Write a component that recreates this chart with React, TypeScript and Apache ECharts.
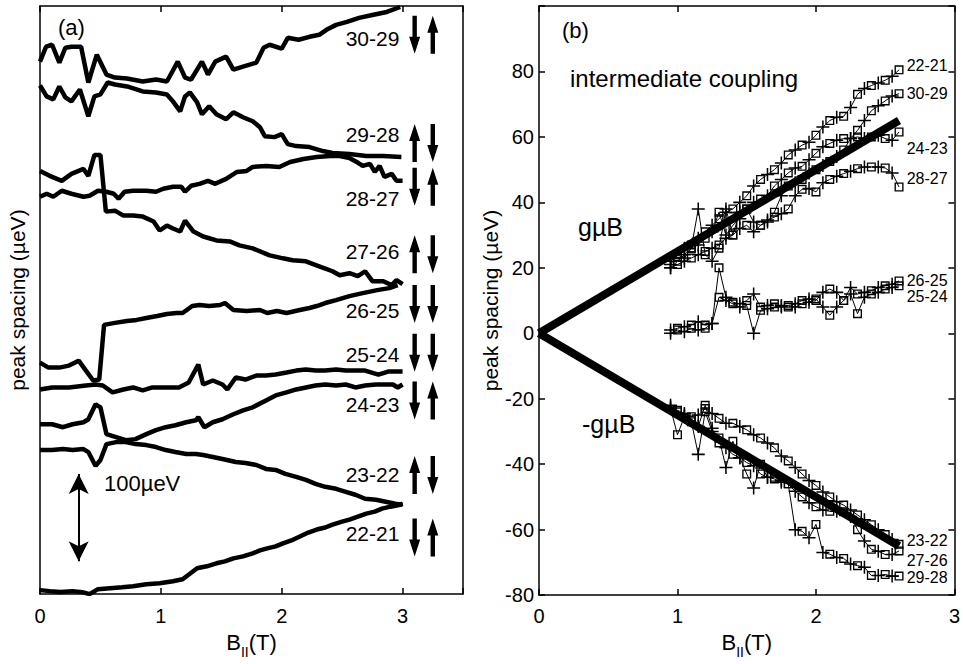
import React, { useEffect, useRef } from 'react';
import * as echarts from 'echarts';

const FONT = 'Liberation Sans, Arial, Helvetica, sans-serif';

// ---------- Panel (a): [B (T), peak spacing, offset traces (arb. µeV scale)] ----------
const a3029 = [[0,536],[0.05,551],[0.1,553],[0.16,535],[0.21,550],[0.26,551],[0.34,551],[0.4,515],[0.47,543],[0.55,523],[0.62,520],[0.72,519],[0.85,516],[0.96,518],[1.05,516],[1.14,536],[1.2,520],[1.25,518],[1.34,536],[1.39,523],[1.45,536],[1.54,541],[1.6,528],[1.68,531],[1.79,535],[1.85,550],[1.9,553],[2,549],[2.05,560],[2.14,558],[2.23,561],[2.31,563],[2.37,568],[2.45,573],[2.54,576],[2.64,580],[2.75,583],[2.87,586],[2.98,591]];
const a2928 = [[0,512],[0.055,501],[0.11,498],[0.16,511],[0.21,500],[0.26,496],[0.33,508],[0.4,481],[0.45,501],[0.5,503],[0.56,515],[0.62,513],[0.72,511],[0.85,506],[0.96,505],[1.05,503],[1.1,496],[1.16,486],[1.2,501],[1.24,505],[1.3,495],[1.34,483],[1.4,491],[1.46,483],[1.54,478],[1.6,485],[1.68,480],[1.76,476],[1.82,470],[1.86,461],[1.94,460],[2,463],[2.05,453],[2.12,451],[2.23,450],[2.34,446],[2.42,444],[2.56,443],[2.7,441],[2.84,441],[2.99,440]];
const a2827 = [[0,400],[0.055,403],[0.11,400],[0.18,406],[0.26,403],[0.36,400],[0.41,401],[0.48,406],[0.55,405],[0.61,403],[0.65,398],[0.7,405],[0.77,406],[0.88,406],[0.96,405],[1.02,408],[1.1,410],[1.17,410],[1.2,405],[1.25,411],[1.32,413],[1.39,416],[1.45,413],[1.54,418],[1.63,425],[1.71,426],[1.76,430],[1.87,431],[1.98,430],[2.07,435],[2.18,438],[2.29,440],[2.4,441],[2.48,441],[2.56,439],[2.62,435],[2.67,431],[2.73,433],[2.77,425],[2.81,431],[2.85,420],[2.91,423],[2.95,416],[3,416]];
const a2726 = [[0,426],[0.08,421],[0.18,416],[0.26,423],[0.36,428],[0.4,421],[0.45,442],[0.5,442],[0.545,385],[0.62,386],[0.69,381],[0.77,381],[0.85,380],[0.94,375],[0.99,366],[1.05,371],[1.1,368],[1.16,365],[1.2,376],[1.27,365],[1.35,360],[1.46,356],[1.57,355],[1.65,351],[1.76,348],[1.9,341],[2.01,338],[2.09,336],[2.2,335],[2.31,330],[2.42,325],[2.48,321],[2.56,323],[2.63,320],[2.69,325],[2.75,315],[2.84,315],[2.91,311],[2.95,316],[3,312]];
const a2625 = [[0,233],[0.07,228],[0.16,228],[0.24,230],[0.32,235],[0.38,225],[0.44,215],[0.49,216],[0.53,271],[0.62,273],[0.72,275],[0.8,276],[0.88,278],[0.97,280],[1.05,282],[1.13,283],[1.18,283],[1.26,290],[1.32,291],[1.4,290],[1.49,291],[1.53,293],[1.6,286],[1.71,285],[1.82,286],[1.88,283],[1.96,285],[2.04,283],[2.15,286],[2.23,288],[2.29,290],[2.36,293],[2.45,296],[2.56,300],[2.67,303],[2.79,306],[2.89,308],[2.96,311]];
const a2524 = [[0,206],[0.1,208],[0.24,208],[0.38,210],[0.46,211],[0.52,210],[0.6,203],[0.69,206],[0.77,208],[0.85,205],[0.93,208],[1.07,208],[1.15,208],[1.23,213],[1.31,231],[1.35,211],[1.43,215],[1.51,211],[1.55,206],[1.62,218],[1.7,216],[1.79,220],[1.87,220],[1.95,221],[2.04,223],[2.12,225],[2.2,226],[2.28,225],[2.36,225],[2.45,226],[2.53,225],[2.61,225],[2.69,225],[2.8,221],[2.88,224],[3,224]];
const a2423 = [[0,171],[0.1,171],[0.19,168],[0.27,171],[0.36,173],[0.4,176],[0.46,191],[0.5,188],[0.55,161],[0.63,158],[0.71,155],[0.79,156],[0.88,161],[0.96,165],[1.04,168],[1.12,170],[1.21,173],[1.29,175],[1.31,178],[1.36,168],[1.43,173],[1.51,176],[1.6,181],[1.68,185],[1.76,188],[1.87,195],[1.95,200],[2.04,203],[2.12,206],[2.2,208],[2.28,210],[2.36,211],[2.45,210],[2.53,211],[2.61,208],[2.69,210],[2.78,211],[2.86,211],[2.92,211],[2.96,208],[3,211]];
const a2322 = [[0,145],[0.1,145],[0.19,146],[0.27,145],[0.36,146],[0.4,143],[0.46,129],[0.5,135],[0.55,151],[0.63,153],[0.71,153],[0.79,151],[0.88,150],[0.96,148],[1.04,145],[1.12,143],[1.21,141],[1.29,141],[1.35,140],[1.43,138],[1.51,136],[1.62,133],[1.7,132],[1.79,130],[1.87,126],[1.95,125],[2.03,121],[2.12,118],[2.2,115],[2.28,111],[2.36,108],[2.45,106],[2.53,103],[2.61,100],[2.69,96],[2.78,95],[2.86,93],[2.94,91],[3,90]];
const a2221 = [[0,4],[0.08,3],[0.17,2],[0.27,3],[0.35,2],[0.41,0],[0.48,5],[0.58,6],[0.68,7],[0.77,8],[0.88,10],[0.99,11],[1.1,13],[1.18,15],[1.3,26],[1.38,28],[1.46,31],[1.53,33],[1.6,36],[1.68,38],[1.76,41],[1.82,44],[1.88,46],[1.95,48],[2.01,51],[2.08,54],[2.15,58],[2.22,62],[2.29,65],[2.36,67],[2.42,70],[2.5,73],[2.56,75],[2.63,78],[2.7,81],[2.77,83],[2.83,86],[2.9,88],[2.98,90],[3,91]];
const aTraces = [a3029, a2928, a2827, a2726, a2625, a2524, a2423, a2322, a2221];

const spinLabels = ['30-29', '29-28', '28-27', '27-26', '26-25', '25-24', '24-23', '23-22', '22-21'];
const spinLabelY = [559, 463, 398, 345, 285, 241, 191, 120, 61];
const spinArrowY = [563, 454, 410, 342, 292, 243, 195, 120, 57];
const spinFirst = ['down', 'up', 'down', 'up', 'down', 'down', 'down', 'up', 'down'];
const spinSecond = ['up', 'down', 'up', 'down', 'down', 'down', 'up', 'down', 'up'];
const spinArrowB = [3.1, 3.25];
const spinLabelB = 2.99;
const scaleBarB = 0.32;
const scaleBarEnds = [121, 33];

// ---------- Panel (b): peak spacing (µeV) vs B (T) ----------
const bField = [0.95,1.0,1.05,1.1,1.15,1.2,1.25,1.3,1.35,1.4,1.45,1.5,1.55,1.6,1.65,1.7,1.75,1.8,1.85,1.9,1.95,2.0,2.05,2.1,2.15,2.2,2.25,2.3,2.35,2.4,2.45,2.5,2.55,2.6];
const b2221 = [22,24,26,27,29,31,33,35,37,38,40,42,45,47,48.5,50,52,54.5,56,57.5,58.4,60.5,63,65,66,66.3,69,73,74.8,75.7,76.5,77.3,78.5,80.5];
const b3029 = [21,24,23,26,38,24,22,26,38,30,37,38,34,33,34,37,42,45,46,47,49,50,51.3,52.5,54,56,59.5,62,65,68,69.5,71,72.5,73.2];
const b2423 = [20,22,24,26,27,29,31,37,30,33,35,38,40,41,42,45,47,49,50.5,51,53,55,57,58,59,59.5,59.5,60,59.5,60,60.5,59.5,59,61.5];
const b2827 = [20,21,22,23,24,25,26,27,29,30,32,33,31,33,34.6,35.5,36.5,38,42,44,44.2,43.2,46,47,48,48.8,49.5,50.3,50.8,50.8,50.8,50.5,49,44.7];
const b2625 = [1,1.5,2,2.5,3.5,2.5,3,11,10,9,8,8.5,0,7,7.5,8,8.5,8,9,10,10.5,10,12.5,13.5,12.5,10,14,12,12.5,13,14,14.5,15,16];
const b2524 = [0,1,0.5,1.5,1,1.5,3,20,11,9.5,9,10,12,8,8.5,9,8,8.5,8,9,9.5,10.5,8,5.5,8,10,12,6,11,12,12.5,13.5,14,14.5];
const b2322 = [-22.5,-23.5,-24.5,-25.5,-25,-23,-24.5,-26,-27.5,-27.5,-28.5,-29.5,-31,-32,-33.5,-35,-37.5,-39,-41,-43,-45,-46.5,-48.5,-50,-51.5,-52.5,-54,-55.5,-57,-58.5,-60,-61.5,-63,-64.5];
const b2726 = [-23,-31,-25.5,-26.5,-28.5,-22,-29,-33.5,-35,-37,-38,-39.5,-40.5,-43,-44,-44.5,-45.5,-46,-48.3,-50,-51.8,-53,-54,-54.4,-54.4,-54.5,-56,-60,-63.5,-66,-66.6,-67.6,-67.6,-66.5];
const b2928 = [-22,-24,-25,-27,-37,-24,-30,-32,-41,-33,-38,-43,-47.3,-40,-44,-44,-45,-46,-60,-60.5,-62.5,-58.4,-67,-67.5,-68.5,-68.8,-70.5,-71,-71.5,-74,-74,-73.7,-74.2,-74.2];
const bTraces = [b2221, b3029, b2423, b2827, b2625, b2524, b2322, b2726, b2928];
const bLabels = ['22-21', '30-29', '24-23', '28-27', '26-25', '25-24', '23-22', '27-26', '29-28'];
const bLabelY = [81.7, 73.2, 56.4, 47.3, 16.2, 11.3, -63.4, -69.5, -74.7];
const bLabelB = 2.655;
const gmuBLine = [[0, 0], [2.6, 65]];
const negGmuBLine = [[0, 0], [2.6, -65]];

const PLUS = 'path://M5.3 0H6.7V5.3H12V6.7H6.7V12H5.3V6.7H0V5.3H5.3Z';
const SQUARE = 'path://M0 0H10V10H0Z M1.5 1.5V8.5H8.5V1.5Z';
const ARROW = 'path://M5 0L10 17L7 17L7 38L3 38L3 17L0 17Z';

const black = '#000';
const axLine = { show: true, onZero: false, lineStyle: { color: black, width: 1.5 } };
const tickIn = { show: true, inside: true, length: 6, lineStyle: { color: black, width: 1.5 } };
const noSplit = { show: false };
const bName = '{b|B}{s|II}{b|(T)}';
const bNameStyle = {
  color: black,
  fontFamily: FONT,
  rich: {
    b: { fontSize: 22, fontFamily: FONT, color: black, lineHeight: 26, verticalAlign: 'top' as const },
    s: { fontSize: 14, fontFamily: FONT, color: black, lineHeight: 14, padding: [14, 0, 0, 0], verticalAlign: 'top' as const },
  },
};

export default function App() {
  const ref = useRef<HTMLDivElement>(null);
  useEffect(() => {
    if (!ref.current) return;
    const chart = echarts.init(ref.current, undefined, { renderer: 'svg' });

    const aSeries: any[] = aTraces.map((d, i) => ({
      type: 'line',
      xAxisIndex: 0,
      yAxisIndex: 0,
      data: d,
      symbol: 'none',
      lineStyle: { color: black, width: 4.5 },
      z: 2,
      ...(i === aTraces.length - 1
        ? {
            markLine: {
              silent: true,
              symbol: ['arrow', 'arrow'],
              symbolSize: [15, 20],
              label: { show: false },
              lineStyle: { color: black, width: 2, type: 'solid', opacity: 1 },
              data: [[{ coord: [scaleBarB, scaleBarEnds[0]] }, { coord: [scaleBarB, scaleBarEnds[1]] }]],
            },
          }
        : {}),
    }));

    const spinLabelSeries = {
      type: 'scatter',
      xAxisIndex: 0,
      yAxisIndex: 0,
      symbolSize: 0,
      itemStyle: { color: black, opacity: 1 },
      data: spinLabels.map((n, i) => ({ name: n, value: [spinLabelB, spinLabelY[i]] })),
      label: { show: true, formatter: '{b}', position: 'left', distance: 2, fontSize: 21, fontFamily: FONT, color: black, opacity: 1 },
      z: 4,
    };
    const spinArrowSeries = {
      type: 'scatter',
      xAxisIndex: 0,
      yAxisIndex: 0,
      symbol: ARROW,
      symbolSize: [11, 38],
      itemStyle: { color: black, opacity: 1 },
      data: [
        ...spinFirst.map((d, i) => ({ value: [spinArrowB[0], spinArrowY[i]], symbolRotate: d === 'up' ? 0 : 180 })),
        ...spinSecond.map((d, i) => ({ value: [spinArrowB[1], spinArrowY[i]], symbolRotate: d === 'up' ? 0 : 180 })),
      ],
      z: 4,
    };

    const bSeries: any[] = bTraces.map((vals) => ({
      type: 'line',
      xAxisIndex: 2,
      yAxisIndex: 2,
      data: bField.map((x, i) => ({
        value: [x, vals[i]],
        symbol: i % 2 === 1 ? SQUARE : PLUS,
        symbolSize: i % 2 === 1 ? 9 : 13,
      })),
      lineStyle: { color: black, width: 1 },
      itemStyle: { color: black, opacity: 1 },
      z: 2,
    }));
    const thick = [gmuBLine, negGmuBLine].map((d) => ({
      type: 'line',
      xAxisIndex: 2,
      yAxisIndex: 2,
      data: d,
      symbol: 'none',
      lineStyle: { color: black, width: 8 },
      z: 3,
    }));
    const bLabelSeries = {
      type: 'scatter',
      xAxisIndex: 2,
      yAxisIndex: 2,
      symbolSize: 0,
      itemStyle: { color: black, opacity: 1 },
      data: bLabels.map((n, i) => ({ name: n, value: [bLabelB, bLabelY[i]] })),
      label: { show: true, formatter: '{b}', position: 'right', distance: 0, fontSize: 16, fontFamily: FONT, color: black, opacity: 1 },
      z: 4,
    };

    const txt = (text: string, x: number, y: number, size: number) => ({
      type: 'text',
      x,
      y,
      z: 10,
      style: { text, fontSize: size, fontFamily: FONT, fill: black, align: 'left', verticalAlign: 'middle' },
    });

    chart.setOption({
      animation: false,
      backgroundColor: '#fff',
      textStyle: { fontFamily: FONT, color: black },
      grid: [
        { left: 40, top: 6, width: 423, height: 592 },
        { left: 539, top: 6, width: 421, height: 591 },
      ],
      xAxis: [
        {
          gridIndex: 0, type: 'value', position: 'bottom', min: 0, max: 3.5, interval: 1,
          axisLine: axLine, axisTick: tickIn, splitLine: noSplit,
          axisLabel: { fontSize: 20, color: black, fontFamily: FONT, margin: 12, formatter: (v: number) => (v > 3 ? '' : String(v)) },
          name: bName, nameLocation: 'middle', nameGap: 32, nameTextStyle: bNameStyle,
        },
        {
          gridIndex: 0, type: 'value', position: 'top', min: 0, max: 3.5, interval: 1,
          axisLine: axLine, axisTick: tickIn, splitLine: noSplit, axisLabel: { show: false },
        },
        {
          gridIndex: 1, type: 'value', position: 'bottom', min: 0, max: 3, interval: 1,
          axisLine: axLine, axisTick: tickIn, splitLine: noSplit,
          axisLabel: { fontSize: 20, color: black, fontFamily: FONT, margin: 11 },
          name: bName, nameLocation: 'middle', nameGap: 32, nameTextStyle: bNameStyle,
        },
        {
          gridIndex: 1, type: 'value', position: 'top', min: 0, max: 3, interval: 1,
          axisLine: axLine, axisTick: tickIn, splitLine: noSplit, axisLabel: { show: false },
        },
      ],
      yAxis: [
        {
          gridIndex: 0, type: 'value', position: 'left', min: 0, max: 592,
          axisLine: axLine, axisTick: { show: false }, splitLine: noSplit, axisLabel: { show: false },
          name: 'peak spacing (µeV)', nameLocation: 'middle', nameGap: 12,
          nameTextStyle: { fontSize: 21, fontFamily: FONT, color: black },
        },
        {
          gridIndex: 0, type: 'value', position: 'right', min: 0, max: 592,
          axisLine: axLine, axisTick: { show: false }, splitLine: noSplit, axisLabel: { show: false },
        },
        {
          gridIndex: 1, type: 'value', position: 'left', min: -80, max: 100, interval: 20,
          axisLine: axLine, axisTick: tickIn, splitLine: noSplit,
          axisLabel: { fontSize: 20, color: black, fontFamily: FONT, margin: 5, formatter: (v: number) => (v >= 100 ? '' : String(v)) },
          name: 'peak spacing (µeV)', nameLocation: 'middle', nameGap: 32,
          nameTextStyle: { fontSize: 21, fontFamily: FONT, color: black },
        },
        {
          gridIndex: 1, type: 'value', position: 'right', min: -80, max: 100, interval: 20,
          axisLine: axLine, axisTick: tickIn, splitLine: noSplit, axisLabel: { show: false },
        },
      ],
      graphic: [
        txt('(a)', 58, 27, 22),
        txt('(b)', 562, 30, 22),
        txt('intermediate coupling', 570, 78, 24),
        txt('gµB', 578, 227, 25),
        txt('-gµB', 582, 424, 25),
        txt('100µeV', 104, 483, 22),
      ],
      series: [...aSeries, spinLabelSeries, spinArrowSeries, ...bSeries, ...thick, bLabelSeries],
    });
    return () => chart.dispose();
  }, []);

  return (
    <div
      ref={ref}
      style={{ position: 'fixed', left: 0, top: 0, width: 963, height: 664, background: '#fff' }}
    />
  );
}
